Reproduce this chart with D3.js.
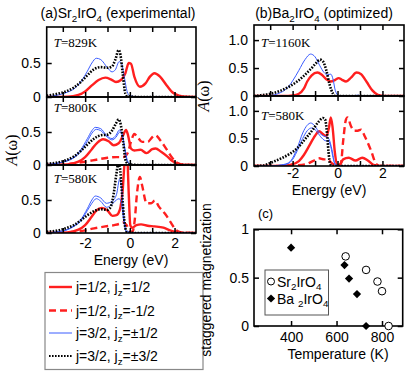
<!DOCTYPE html>
<html>
<head>
<meta charset="utf-8">
<script src="https://cdn.jsdelivr.net/npm/d3@7"></script>
<style>
body { margin: 0; background: #fff; }
text { font-family: "Liberation Sans", Arial, sans-serif; fill: #000; }
.serif { font-family: "Liberation Serif", "Times New Roman", serif; }
</style>
</head>
<body>
<svg id="fig" width="407" height="371"></svg>
<script>
// ---- spectral functions, [energy (eV), A(w)] ----
// (a) Sr2IrO4, T=829K
var redA1 = [[-3.72,0],[-2.8,0.005],[-2.3,0.03],[-2.0,0.08],[-1.7,0.17],[-1.4,0.25],[-1.1,0.285],[-0.85,0.26],[-0.62,0.22],[-0.4,0.25],[-0.2,0.35],[-0.05,0.5],[0.05,0.49],[0.2,0.3],[0.45,0.15],[0.7,0.2],[0.9,0.3],[1.1,0.35],[1.35,0.3],[1.65,0.17],[1.9,0.07],[2.2,0.02],[2.6,0.003],[2.96,0]];
var blueA1 = [[-3.72,0.005],[-3.2,0.03],[-2.8,0.07],[-2.5,0.12],[-2.2,0.22],[-1.9,0.38],[-1.7,0.5],[-1.5,0.57],[-1.3,0.55],[-1.0,0.43],[-0.8,0.37],[-0.65,0.4],[-0.48,0.52],[-0.38,0.5],[-0.25,0.3],[-0.12,0.08],[0,0.02],[0.3,0.005],[2.96,0]];
var blackA1 = [[-3.72,0.02],[-3.2,0.05],[-2.8,0.09],[-2.5,0.14],[-2.2,0.22],[-1.9,0.32],[-1.6,0.41],[-1.3,0.44],[-1.0,0.43],[-0.8,0.45],[-0.65,0.55],[-0.5,0.69],[-0.42,0.62],[-0.32,0.35],[-0.2,0.05],[-0.1,0.01],[0.5,0],[2.96,0]];
// (a) T=800K
var redA2 = [[-3.72,0],[-2.8,0.01],[-2.3,0.05],[-2.0,0.12],[-1.7,0.24],[-1.45,0.34],[-1.2,0.39],[-0.95,0.36],[-0.72,0.3],[-0.5,0.33],[-0.3,0.45],[-0.17,0.53],[-0.08,0.45],[0.05,0.25],[0.2,0.22],[0.48,0.23],[0.75,0.18],[1.0,0.24],[1.15,0.25],[1.4,0.2],[1.67,0.13],[1.9,0.06],[2.2,0.015],[2.6,0],[2.96,0]];
var redDashA2 = [[-3.72,0],[-3.0,0.005],[-2.4,0.03],[-2.0,0.05],[-1.5,0.08],[-1.0,0.11],[-0.6,0.12],[-0.3,0.12],[-0.1,0.18],[0.05,0.35],[0.2,0.47],[0.35,0.42],[0.55,0.35],[0.8,0.35],[1.0,0.42],[1.15,0.45],[1.35,0.38],[1.6,0.26],[1.85,0.13],[2.05,0.05],[2.3,0.01],[2.96,0]];
var blueA2a = [[-3.72,0.005],[-3.2,0.03],[-2.8,0.06],[-2.5,0.11],[-2.2,0.2],[-1.9,0.36],[-1.7,0.48],[-1.5,0.54],[-1.3,0.52],[-1.0,0.42],[-0.8,0.38],[-0.62,0.42],[-0.45,0.5],[-0.35,0.46],[-0.22,0.25],[-0.1,0.06],[0.05,0.01],[0.3,0],[2.96,0]];
var blueA2b = [[-3.72,0.005],[-3.2,0.03],[-2.8,0.07],[-2.5,0.12],[-2.2,0.23],[-1.9,0.4],[-1.7,0.52],[-1.55,0.57],[-1.3,0.55],[-1.05,0.45],[-0.8,0.4],[-0.62,0.45],[-0.47,0.53],[-0.36,0.48],[-0.22,0.22],[-0.1,0.04],[0.05,0.01],[0.3,0],[2.96,0]];
var blackA2 = [[-3.72,0.02],[-3.2,0.04],[-2.8,0.08],[-2.5,0.13],[-2.2,0.21],[-1.9,0.31],[-1.6,0.4],[-1.3,0.45],[-1.0,0.46],[-0.8,0.52],[-0.62,0.63],[-0.5,0.69],[-0.4,0.6],[-0.3,0.35],[-0.18,0.06],[-0.05,0.01],[0.5,0],[2.96,0]];
// (a) T=580K
var redA3 = [[-3.72,0],[-2.8,0.01],[-2.3,0.05],[-2.0,0.12],[-1.7,0.25],[-1.5,0.34],[-1.25,0.38],[-1.0,0.34],[-0.78,0.26],[-0.6,0.27],[-0.45,0.35],[-0.32,0.65],[-0.22,1.1],[-0.12,1.15],[-0.05,0.6],[0.02,0.12],[0.1,0.08],[0.3,0.12],[0.5,0.13],[0.8,0.11],[1.1,0.1],[1.5,0.08],[1.8,0.04],[2.05,0.015],[2.4,0],[2.96,0]];
var redDashA3 = [[-3.72,0],[-3.0,0.005],[-2.4,0.02],[-2.0,0.04],[-1.6,0.07],[-1.1,0.1],[-0.7,0.12],[-0.45,0.14],[-0.3,0.16],[-0.15,0.12],[0.0,0.03],[0.12,0.02],[0.22,0.2],[0.32,0.6],[0.45,0.85],[0.55,0.72],[0.75,0.45],[0.95,0.45],[1.12,0.49],[1.3,0.4],[1.6,0.28],[1.85,0.15],[2.05,0.05],[2.3,0.01],[2.96,0]];
var blueA3a = [[-3.72,0],[-3.2,0.02],[-2.8,0.05],[-2.5,0.1],[-2.2,0.18],[-1.9,0.34],[-1.7,0.45],[-1.5,0.52],[-1.3,0.48],[-1.05,0.39],[-0.85,0.42],[-0.6,0.5],[-0.48,0.52],[-0.38,0.45],[-0.28,0.2],[-0.15,0.02],[0.2,0],[2.96,0]];
var blueA3b = [[-3.72,0],[-3.2,0.02],[-2.8,0.05],[-2.5,0.11],[-2.2,0.2],[-1.9,0.37],[-1.7,0.5],[-1.55,0.56],[-1.3,0.53],[-1.05,0.45],[-0.8,0.48],[-0.6,0.58],[-0.45,0.82],[-0.38,0.7],[-0.28,0.3],[-0.17,0.03],[0.2,0],[2.96,0]];
var blackA3 = [[-3.72,0.02],[-3.2,0.04],[-2.8,0.08],[-2.5,0.12],[-2.2,0.19],[-1.9,0.27],[-1.6,0.33],[-1.3,0.36],[-1.0,0.35],[-0.85,0.4],[-0.72,0.6],[-0.6,0.9],[-0.52,1.05],[-0.45,1.0],[-0.35,0.6],[-0.25,0.2],[-0.15,0.02],[0.3,0],[2.96,0]];
// (b) Ba2IrO4, T=1160K
var redB1 = [[-3.72,0],[-2.4,0],[-2.0,0.01],[-1.72,0.04],[-1.5,0.13],[-1.35,0.26],[-1.15,0.37],[-0.9,0.42],[-0.7,0.38],[-0.5,0.3],[-0.3,0.26],[-0.1,0.29],[0.05,0.32],[0.2,0.29],[0.38,0.26],[0.6,0.33],[0.85,0.42],[1.05,0.39],[1.3,0.25],[1.55,0.1],[1.8,0.02],[2.1,0],[2.96,0]];
var blueB1 = [[-3.72,0],[-3.0,0.01],[-2.6,0.05],[-2.3,0.12],[-2.0,0.27],[-1.72,0.46],[-1.45,0.65],[-1.2,0.75],[-1.0,0.7],[-0.8,0.55],[-0.6,0.42],[-0.45,0.38],[-0.3,0.39],[-0.2,0.3],[-0.1,0.1],[0.05,0.01],[0.6,0],[0.9,0.015],[1.1,0],[2.96,0]];
var blackB1 = [[-3.72,0],[-3.5,0.01],[-3.0,0.04],[-2.5,0.1],[-2.1,0.18],[-1.8,0.26],[-1.5,0.36],[-1.2,0.48],[-0.95,0.59],[-0.78,0.65],[-0.65,0.62],[-0.5,0.46],[-0.35,0.2],[-0.2,0.04],[-0.1,0],[2.96,0]];
// (b) T=580K
var redB2 = [[-3.72,0],[-2.5,0],[-2.1,0.02],[-1.72,0.09],[-1.5,0.2],[-1.27,0.36],[-1.0,0.55],[-0.82,0.63],[-0.65,0.58],[-0.5,0.54],[-0.38,0.7],[-0.3,0.88],[-0.22,0.7],[-0.12,0.25],[-0.02,0.02],[0.1,0.02],[0.25,0.12],[0.5,0.15],[0.8,0.1],[1.1,0.15],[1.35,0.1],[1.6,0.02],[1.9,0],[2.96,0]];
var redDashB2 = [[-3.72,0],[-2.5,0],[-2.0,0.01],[-1.42,0.03],[-1.1,0.09],[-0.82,0.14],[-0.6,0.12],[-0.45,0.12],[-0.25,0.05],[0.0,0],[0.15,0.05],[0.25,0.45],[0.38,0.85],[0.45,0.88],[0.6,0.72],[0.75,0.64],[0.9,0.64],[1.05,0.66],[1.2,0.55],[1.5,0.27],[1.7,0.05],[1.85,0],[2.96,0]];
var blueB2a = [[-3.72,0],[-3.0,0],[-2.5,0.02],[-2.17,0.06],[-1.95,0.18],[-1.79,0.33],[-1.55,0.6],[-1.35,0.74],[-1.19,0.78],[-1.0,0.72],[-0.8,0.6],[-0.6,0.54],[-0.45,0.52],[-0.37,0.48],[-0.25,0.3],[-0.12,0.05],[0.1,0],[2.96,0]];
var blueB2b = [[-3.72,0],[-3.0,0],[-2.5,0.015],[-2.17,0.05],[-1.95,0.15],[-1.79,0.28],[-1.55,0.5],[-1.35,0.64],[-1.15,0.69],[-0.95,0.64],[-0.75,0.53],[-0.55,0.46],[-0.4,0.45],[-0.3,0.35],[-0.2,0.15],[-0.1,0.02],[0.1,0],[2.96,0]];
var blackB2 = [[-3.72,0],[-3.3,0.01],[-2.9,0.07],[-2.5,0.14],[-2.17,0.21],[-1.8,0.32],[-1.42,0.5],[-1.1,0.66],[-0.85,0.8],[-0.65,0.87],[-0.55,0.84],[-0.47,0.6],[-0.4,0.25],[-0.33,0.03],[-0.2,0],[2.96,0]];

// (c) staggered magnetization vs temperature
var srTemps = [640, 730, 780, 800, 829];
var srMag = [0.72, 0.58, 0.46, 0.36, 0];
var baTemps = [400, 635, 655, 690, 730];
var baMag = [0.81, 0.63, 0.49, 0.33, 0];

var energyTicks = [-3, -2, -1, 0, 1, 2];
var energyLabels = [-2, 0, 2];
var tempTicks = [400, 600, 800];
var magTicks = [0, 0.5, 1];

var RED = "#ff1f1f", BLUE = "#3a5cff";
var styles = {
    red:   { stroke: RED, width: 2.4, dash: null },
    dash:  { stroke: RED, width: 2.4, dash: "7,4" },
    blue:  { stroke: BLUE, width: 1, dash: null },
    black: { stroke: "#000", width: 2.6, dash: "1.6,1.4" }
};

var svg = d3.select("#fig");

// text with subscripts: parts = [[string, isSub], ...]
function subText(g, x, y, parts, size, anchor) {
    var t = g.append("text").attr("x", x).attr("y", y).attr("font-size", size)
        .attr("text-anchor", anchor || "start");
    var prevSub = false;
    parts.forEach(function(p) {
        var s = t.append("tspan").text(p[0]);
        if (p[1]) { s.attr("dy", 3.5).attr("font-size", size * 0.7); }
        else if (prevSub) { s.attr("dy", -3.5); }
        prevSub = p[1];
    });
    return t;
}

var clipId = 0;
function dosPanel(x, top, bottom, ymax, curves, tLabel, tY, yLabels, xPad) {
    var y = d3.scaleLinear().domain([0, ymax]).range([bottom, top]);
    var g = svg.append("g");
    var id = "clip" + (clipId++);
    g.append("clipPath").attr("id", id).append("rect")
        .attr("x", x.range()[0]).attr("y", top)
        .attr("width", x.range()[1] - x.range()[0]).attr("height", bottom - top);

    var line = d3.line().x(function(d) { return x(d[0]); })
        .y(function(d) { return y(d[1]); }).curve(d3.curveMonotoneX);
    var cg = g.append("g").attr("clip-path", "url(#" + id + ")");
    curves.forEach(function(c) {
        var st = styles[c.style];
        cg.append("path").attr("d", line(c.data)).attr("fill", "none")
            .attr("stroke", st.stroke).attr("stroke-width", st.width)
            .attr("stroke-dasharray", st.dash).attr("stroke-linejoin", "round");
    });

    // inward ticks on all four sides; x labels only when xPad is given
    g.append("g").attr("transform", "translate(0," + bottom + ")")
        .call(d3.axisBottom(x).tickValues(energyTicks).tickSize(-5).tickPadding(xPad || 0)
            .tickFormat(function(d) { return xPad && energyLabels.indexOf(d) >= 0 ? String(d) : ""; }))
        .call(function(a) { a.select(".domain").remove(); a.selectAll("line").attr("stroke-width", 1.5); a.selectAll("text").attr("font-size", 14); });
    g.append("g").attr("transform", "translate(0," + top + ")")
        .call(d3.axisTop(x).tickValues(energyTicks).tickSize(-5).tickFormat(""))
        .call(function(a) { a.select(".domain").remove(); a.selectAll("line").attr("stroke-width", 1.5); });
    g.append("g").attr("transform", "translate(" + x.range()[0] + ",0)")
        .call(d3.axisLeft(y).tickValues(yLabels.map(function(d) { return d[0]; })).tickSize(-5).tickPadding(6)
            .tickFormat(function(d) { var f = yLabels.filter(function(e) { return e[0] === d; }); return f.length ? f[0][1] : ""; }))
        .call(function(a) { a.select(".domain").remove(); a.selectAll("line").attr("stroke-width", 1.5); a.selectAll("text").attr("font-size", 14); });
    g.append("g").attr("transform", "translate(" + x.range()[1] + ",0)")
        .call(d3.axisRight(y).tickValues(yLabels.map(function(d) { return d[0]; })).tickSize(-5).tickFormat(""))
        .call(function(a) { a.select(".domain").remove(); a.selectAll("line").attr("stroke-width", 1.5); });

    g.append("rect").attr("x", x.range()[0]).attr("y", top)
        .attr("width", x.range()[1] - x.range()[0]).attr("height", bottom - top)
        .attr("fill", "none").attr("stroke", "#000").attr("stroke-width", 1.6);

    var t = g.append("text").attr("class", "serif").attr("x", x.range()[0] + 7).attr("y", tY).attr("font-size", 13);
    t.append("tspan").attr("font-style", "italic").text("T");
    t.append("tspan").text("=" + tLabel);
    return y;
}

var eDomain = [-3.72, 2.96];
var xA = d3.scaleLinear().domain(eDomain).range([46.7, 196]);
var xB = d3.scaleLinear().domain(eDomain).range([254, 404]);
var labA = [[0, "0"], [0.5, "0.5"]];
var labB = [[0, "0"], [0.5, "0.5"], [1, "1.0"]];

dosPanel(xA, 27, 97, 1.03, [
    { data: redA1, style: "red" }, { data: blueA1, style: "blue" }, { data: blackA1, style: "black" }
], "829K", 47, labA, 0);
dosPanel(xA, 97, 165, 1.03, [
    { data: redDashA2, style: "dash" }, { data: redA2, style: "red" },
    { data: blueA2a, style: "blue" }, { data: blueA2b, style: "blue" }, { data: blackA2, style: "black" }
], "800K", 112, labA, 0);
dosPanel(xA, 165, 233, 1.03, [
    { data: redDashA3, style: "dash" }, { data: redA3, style: "red" },
    { data: blueA3a, style: "blue" }, { data: blueA3b, style: "blue" }, { data: blackA3, style: "black" }
], "580K", 183, labA, 5);

dosPanel(xB, 25, 96, 1.27, [
    { data: redB1, style: "red" }, { data: blueB1, style: "blue" }, { data: blackB1, style: "black" }
], "1160K", 47, labB, 0);
dosPanel(xB, 96, 166, 1.27, [
    { data: redDashB2, style: "dash" }, { data: redB2, style: "red" },
    { data: blueB2a, style: "blue" }, { data: blueB2b, style: "blue" }, { data: blackB2, style: "black" }
], "580K", 120, labB, 2);

// titles and axis names
subText(svg, 118, 18, [["(a)Sr", 0], ["2", 1], ["IrO", 0], ["4", 1], [" (experimental)", 0]], 14, "middle");
subText(svg, 324, 18, [["(b)Ba", 0], ["2", 1], ["IrO", 0], ["4", 1], [" (optimized)", 0]], 14, "middle");
svg.append("text").attr("x", 131).attr("y", 265).attr("font-size", 14).attr("text-anchor", "middle").text("Energy (eV)");
svg.append("text").attr("x", 329).attr("y", 195).attr("font-size", 14).attr("text-anchor", "middle").text("Energy (eV)");

function aLabel(x, y) {
    var t = svg.append("text").attr("class", "serif").attr("font-size", 16).attr("text-anchor", "middle")
        .attr("transform", "translate(" + x + "," + y + ") rotate(-90)");
    t.append("tspan").attr("font-style", "italic").text("A");
    t.append("tspan").text("(\u03c9)");
}
aLabel(17, 150);
aLabel(209, 96);

// legend for the spectral functions
var leg = svg.append("g");
leg.append("rect").attr("x", 45).attr("y", 272.5).attr("width", 158).attr("height", 97)
    .attr("fill", "#fff").attr("stroke", "#888").attr("stroke-width", 1.2);
var legItems = [
    { style: "red", parts: [["j=1/2, j", 0], ["z", 1], ["=1/2", 0]] },
    { style: "dash", parts: [["j=1/2, j", 0], ["z", 1], ["=-1/2", 0]] },
    { style: "blue", parts: [["j=3/2, j", 0], ["z", 1], ["=\u00b11/2", 0]] },
    { style: "black", parts: [["j=3/2, j", 0], ["z", 1], ["=\u00b13/2", 0]] }
];
var legY = [287, 310.5, 333, 356];
legItems.forEach(function(it, i) {
    var st = styles[it.style];
    leg.append("line").attr("x1", 49).attr("x2", 72).attr("y1", legY[i]).attr("y2", legY[i])
        .attr("stroke", st.stroke).attr("stroke-width", it.style === "black" ? 2 : st.width)
        .attr("stroke-dasharray", st.dash);
    subText(leg, 76, legY[i] + 5, it.parts, 14);
});

// (c) magnetization panel
var xT = d3.scaleLinear().domain([237, 891]).range([254, 402.7]);
var yM = d3.scaleLinear().domain([0, 1]).range([326, 229.3]);
var gc = svg.append("g");
gc.append("g").attr("transform", "translate(0,326)")
    .call(d3.axisBottom(xT).tickValues(tempTicks).tickSize(-5).tickPadding(6))
    .call(function(a) { a.select(".domain").remove(); a.selectAll("line").attr("stroke-width", 1.5); a.selectAll("text").attr("font-size", 14); });
gc.append("g").attr("transform", "translate(0,229.3)")
    .call(d3.axisTop(xT).tickValues(tempTicks).tickSize(-5).tickFormat(""))
    .call(function(a) { a.select(".domain").remove(); a.selectAll("line").attr("stroke-width", 1.5); });
gc.append("g").attr("transform", "translate(254,0)")
    .call(d3.axisLeft(yM).tickValues(magTicks).tickSize(-5).tickPadding(5).tickFormat(function(d) { return String(d); }))
    .call(function(a) { a.select(".domain").remove(); a.selectAll("line").attr("stroke-width", 1.5); a.selectAll("text").attr("font-size", 14); });
gc.append("g").attr("transform", "translate(402.7,0)")
    .call(d3.axisRight(yM).tickValues(magTicks).tickSize(-5).tickFormat(""))
    .call(function(a) { a.select(".domain").remove(); a.selectAll("line").attr("stroke-width", 1.5); });
gc.append("rect").attr("x", 254).attr("y", 229.3).attr("width", 148.7).attr("height", 96.7)
    .attr("fill", "none").attr("stroke", "#000").attr("stroke-width", 1.6);

// square diamond marker (square rotated 45 degrees)
var diamond = d3.symbol().type(d3.symbolSquare).size(34);
gc.selectAll(".ba").data(baTemps).join("path").attr("class", "ba")
    .attr("d", diamond).attr("fill", "#000")
    .attr("transform", function(d, i) { return "translate(" + xT(d) + "," + yM(baMag[i]) + ") rotate(45)"; });
gc.selectAll(".sr").data(srTemps).join("circle").attr("class", "sr")
    .attr("cx", function(d) { return xT(d); }).attr("cy", function(d, i) { return yM(srMag[i]); })
    .attr("r", 3.8).attr("fill", "#fff").attr("stroke", "#000").attr("stroke-width", 1);

// (c) legend
gc.append("rect").attr("x", 265).attr("y", 270).attr("width", 63.5).attr("height", 45)
    .attr("fill", "#fff").attr("stroke", "#555").attr("stroke-width", 1);
gc.append("circle").attr("cx", 271).attr("cy", 281.5).attr("r", 3.5).attr("fill", "#fff").attr("stroke", "#000");
gc.append("path").attr("d", diamond).attr("fill", "#000").attr("transform", "translate(271,298.5) rotate(45)");
subText(gc, 277, 286.5, [["Sr", 0], ["2", 1], ["IrO", 0], ["4", 1]], 14);
subText(gc, 277, 303.5, [["Ba ", 0], ["2", 1], ["IrO", 0], ["4", 1]], 14);

gc.append("text").attr("x", 258).attr("y", 218).attr("font-size", 13).text("(c)");
gc.append("text").attr("x", 338).attr("y", 359).attr("font-size", 14).attr("text-anchor", "middle").text("Temperature (K)");
gc.append("text").attr("transform", "translate(211,280) rotate(-90)").attr("font-size", 14)
    .attr("text-anchor", "middle").text("staggered magnetization");
</script>
</body>
</html>
